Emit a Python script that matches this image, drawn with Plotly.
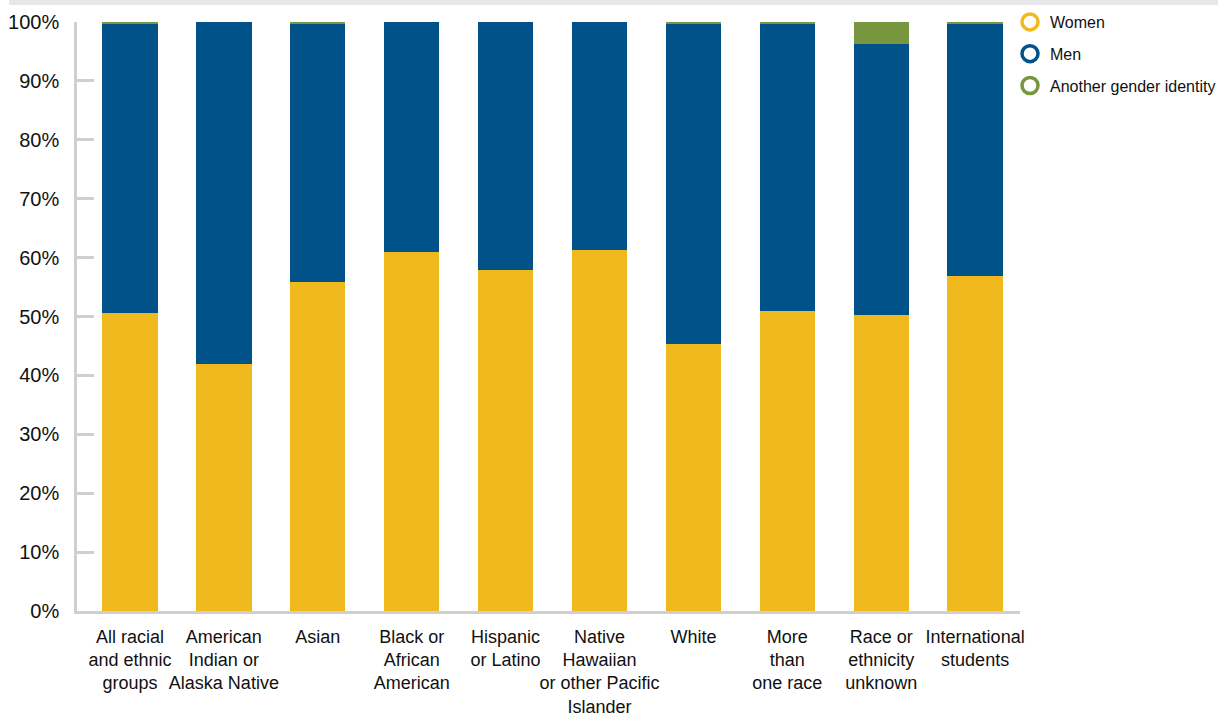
import plotly.graph_objects as go

categories = [
    "All racial<br>and ethnic<br>groups",
    "American<br>Indian or<br>Alaska Native",
    "Asian",
    "Black or<br>African<br>American",
    "Hispanic<br>or Latino",
    "Native<br>Hawaiian<br>or other Pacific<br>Islander",
    "White",
    "More<br>than<br>one race",
    "Race or<br>ethnicity<br>unknown",
    "International<br>students",
]
women = [50.6, 41.9, 55.9, 61.0, 57.9, 61.3, 45.3, 50.9, 50.3, 56.9]
men = [49.0, 58.1, 43.9, 39.0, 42.1, 38.7, 54.3, 48.9, 46.0, 42.7]
another = [0.4, 0.0, 0.2, 0.0, 0.0, 0.0, 0.4, 0.2, 3.7, 0.4]
yticks = [0, 10, 20, 30, 40, 50, 60, 70, 80, 90, 100]
ytick_labels = [f"{v}%" for v in yticks]

C_W = "#F0BA1E"
C_M = "#02528A"
C_O = "#77963D"
FONT = "Liberation Sans, Arial, sans-serif"

fig = go.Figure()
for name, vals, col in [("Women", women, C_W), ("Men", men, C_M), ("Another gender identity", another, C_O)]:
    fig.add_trace(go.Bar(x=categories, y=vals, name=name, marker=dict(color=col, line=dict(width=0)),
                         showlegend=False, hoverinfo="y+name"))
for i, (name, col) in enumerate([("Women", C_W), ("Men", C_M), ("Another gender identity", C_O)]):
    fig.add_trace(go.Scatter(x=[categories[0]], y=[None], mode="markers", name=name, legendgroup=f"g{i}",
                             marker=dict(symbol="circle-open", size=16, color=col, line=dict(width=3.5, color=col)),
                             showlegend=True))

L, R, T, B = 77, 198, 22, 106
W, H = 1218, 717
pw, ph = W - L - R, H - T - B

fig.update_layout(
    width=W, height=H, barmode="stack", bargap=0.41,
    margin=dict(l=L, r=R, t=T, b=B, pad=0, autoexpand=False),
    paper_bgcolor="white", plot_bgcolor="white",
    font=dict(family=FONT, size=18, color="#111111"),
    legend=dict(x=(1010 - L) / pw, xanchor="left", y=1 + 17 / ph, yanchor="top",
                font=dict(size=16, color="#111111"),
                tracegroupgap=8, traceorder="grouped", itemsizing="trace", bgcolor="rgba(0,0,0,0)"),
    xaxis=dict(range=[-0.564, 9.478], showgrid=False, zeroline=False, showline=True, linecolor="#cfcfcf",
               linewidth=3, ticks="", tickangle=0, tickfont=dict(size=18), ticklabelstandoff=7,
               automargin=False, fixedrange=True),
    yaxis=dict(range=[0, 100], tickvals=yticks, ticktext=ytick_labels, showgrid=False, zeroline=False,
               showline=True, linecolor="#cfcfcf", linewidth=2.5, ticks="inside", ticklen=17, tickwidth=3,
               tickcolor="#cfcfcf", ticklabelstandoff=11, tickfont=dict(size=20), automargin=False),
    shapes=[dict(type="rect", xref="paper", yref="paper", x0=(9 - L) / pw, x1=(W - L) / pw,
                 y0=1 + (T - 5) / ph, y1=1 + T / ph + 0.01, fillcolor="#e6e7e8", line=dict(width=0), layer="below")],
)

fig.write_html("out.html")
